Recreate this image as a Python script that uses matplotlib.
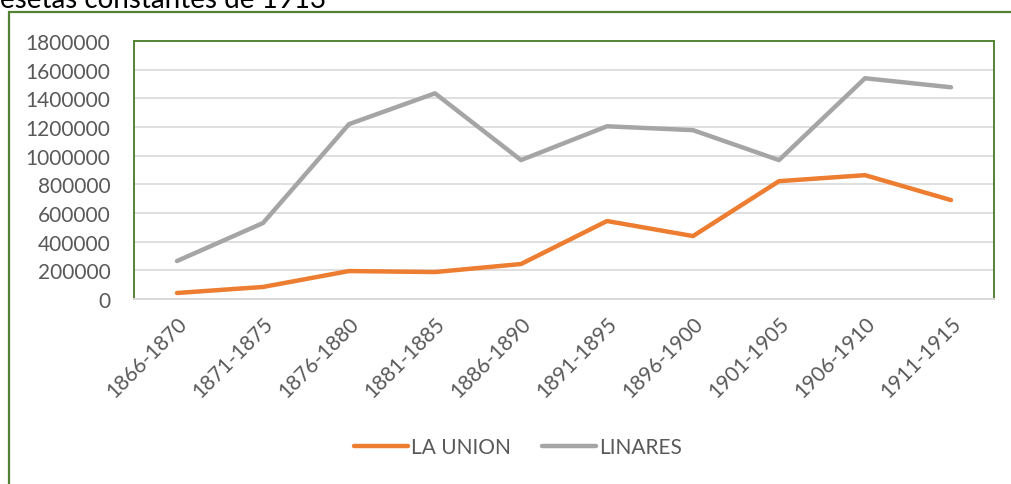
import matplotlib.pyplot as plt
from matplotlib.patches import Rectangle

# ---------- data ----------
periods = ["1866-1870", "1871-1875", "1876-1880", "1881-1885", "1886-1890",
           "1891-1895", "1896-1900", "1901-1905", "1906-1910", "1911-1915"]
la_union = [42000, 84000, 195000, 188000, 244000, 544000, 439000, 822000, 864000, 690000]
linares = [265000, 530000, 1220000, 1435000, 969000, 1205000, 1178000, 969000, 1540000, 1477000]

ORANGE = "#ED7D31"
GRAY = "#A5A5A5"
GREEN = "#548235"
TXT = "#595959"

plt.rcParams["font.family"] = ["Lato", "DejaVu Sans"]

fig = plt.figure(figsize=(10.11, 4.85), dpi=100)
W, H = 1011, 485

# outer chart frame (cut off at the bottom and right, as in the source)
fig.patches.append(Rectangle((9 / W, -0.1), 1.2, 1.1 - 12.5 / H,
                             transform=fig.transFigure, fill=False,
                             edgecolor=GREEN, linewidth=1.6, zorder=0))
fig.text(0 / W, 1 - 8 / H, "esetas constantes de 1913", fontsize=20,
         color="black", ha="left", va="baseline")

ax = fig.add_axes([134 / W, 1 - 300 / H, 860 / W, 258 / H])
x = list(range(len(periods)))
ax.plot(x, la_union, color=ORANGE, linewidth=3.2, solid_capstyle="round",
        solid_joinstyle="round", label="LA UNION", zorder=3)
ax.plot(x, linares, color=GRAY, linewidth=3.2, solid_capstyle="round",
        solid_joinstyle="round", label="LINARES", zorder=3)

ax.set_xlim(-0.5, len(periods) - 0.5)
ax.set_ylim(0, 1800000)
ax.set_yticks(range(0, 1800001, 200000))
ax.set_yticklabels([str(v) for v in range(0, 1800001, 200000)])
ax.set_xticks(x)
ax.set_xticklabels(periods, rotation=45, ha="right", rotation_mode="anchor")
ax.grid(axis="y", color="#D9D9D9", linewidth=1.2, zorder=0)
ax.set_axisbelow(True)
ax.tick_params(axis="both", length=0, labelsize=15, colors=TXT)
ax.tick_params(axis="y", pad=17)
ax.tick_params(axis="x", pad=10)

for s in ["left", "top", "right"]:
    ax.spines[s].set_color(GREEN)
    ax.spines[s].set_linewidth(1.4)
ax.spines["bottom"].set_color("#D9D9D9")
ax.spines["bottom"].set_linewidth(1.4)

leg = fig.legend(loc="center", bbox_to_anchor=(518 / W, 1 - 448 / H), ncol=2,
                 frameon=False, fontsize=15, handlelength=2.6, handletextpad=0.15,
                 columnspacing=1.5)
for t in leg.get_texts():
    t.set_color(TXT)

fig.savefig("out.png", dpi=100)
